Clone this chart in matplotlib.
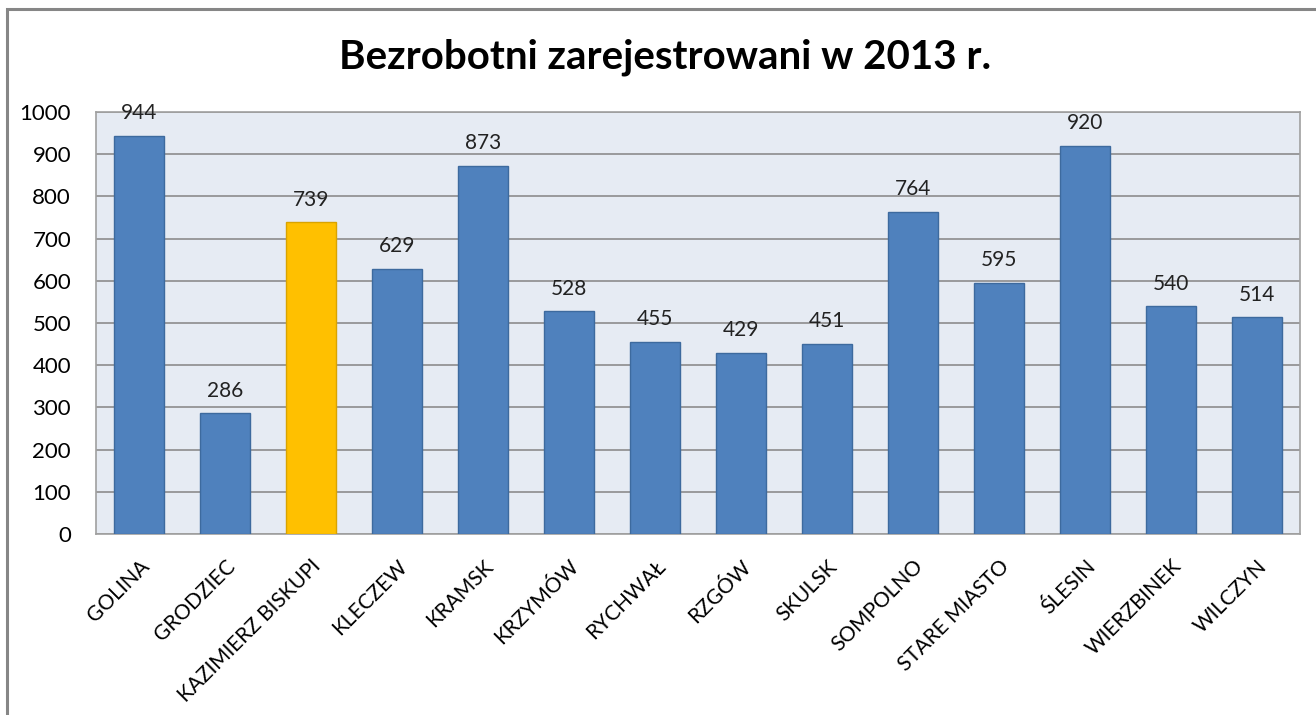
import matplotlib.pyplot as plt
from matplotlib.patches import Rectangle

categories = ["GOLINA", "GRODZIEC", "KAZIMIERZ BISKUPI", "KLECZEW", "KRAMSK",
              "KRZYMÓW", "RYCHWAŁ", "RZGÓW", "SKULSK", "SOMPOLNO",
              "STARE MIASTO", "ŚLESIN", "WIERZBINEK", "WILCZYN"]
values = [944, 286, 739, 629, 873, 528, 455, 429, 451, 764, 595, 920, 540, 514]
highlight = "KAZIMIERZ BISKUPI"
yticks = [0, 100, 200, 300, 400, 500, 600, 700, 800, 900, 1000]

plt.rcParams['font.family'] = ['Lato', 'DejaVu Sans']

fig = plt.figure(figsize=(13.16, 7.15), dpi=100)
ax = fig.add_axes([96 / 1316, 181 / 715, 1204 / 1316, 422 / 715])

# outer chart frame (runs off right/bottom like the screenshot)
fig.patches.append(Rectangle((7 / 1316, -0.1), 1.2, (715 - 9) / 715 + 0.1,
                             transform=fig.transFigure, fill=False,
                             edgecolor='#868686', linewidth=2.2, zorder=0))

colors = ['#FFC000' if c == highlight else '#4F81BD' for c in categories]
edges = ['#D9A300' if c == highlight else '#3D6A9E' for c in categories]
x = range(len(categories))
ax.bar(x, values, width=0.58, color=colors, edgecolor=edges, linewidth=1, zorder=3)

for xi, v in zip(x, values):
    ax.annotate(str(v), (xi, v), xytext=(0, 9), textcoords='offset points',
                ha='center', va='bottom', fontsize=15, color='#222222')

ax.set_facecolor('#E6EBF3')
ax.set_xlim(-0.5, len(categories) - 0.5)
ax.set_ylim(0, 1000)
ax.set_yticks(yticks)
ax.yaxis.grid(True, color='#8C8C8C', linewidth=1.2, zorder=1)
ax.tick_params(axis='y', length=0, labelsize=16, pad=18)
ax.tick_params(axis='x', length=0, labelsize=15, pad=16)
ax.set_xticks(list(x))
ax.set_xticklabels(categories, rotation=45, ha='right', rotation_mode='anchor')
for s in ax.spines.values():
    s.set_color('#A0A0A0')
    s.set_linewidth(1.2)

fig.text(665 / 1316, 1 - 57 / 715, "Bezrobotni zarejestrowani w 2013 r.",
         ha='center', va='center', fontsize=29, fontweight='bold')

fig.savefig("out.png", dpi=100)
